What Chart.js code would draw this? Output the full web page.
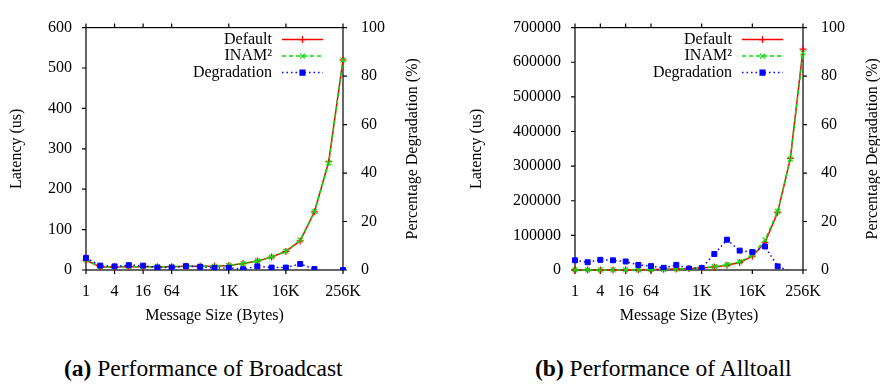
<!DOCTYPE html>
<html>
<head>
<meta charset="utf-8">
<script src="https://cdn.jsdelivr.net/npm/chart.js@4.4.1/dist/chart.umd.min.js"></script>
<style>
  body { margin: 0; background: #fff; width: 880px; height: 387px; overflow: hidden; position: relative; font-family: "Liberation Serif", serif; }
  .panel { position: absolute; top: 0; height: 330px; }
  .cap { position: absolute; top: 357px; font-size: 23.5px; line-height: 23.5px; white-space: nowrap; color: #000; font-family: "Liberation Serif", serif; }
</style>
</head>
<body>
<div class="panel" style="left:0;width:440px"><canvas id="chartBcast" width="440" height="330"></canvas></div>
<div class="panel" style="left:440px;width:460px"><canvas id="chartA2a" width="460" height="330"></canvas></div>
<div class="cap" style="left:64px"><b>(a)</b> Performance of Broadcast</div>
<div class="cap" style="left:535px"><b>(b)</b> Performance of Alltoall</div>
<script>
// message sizes in bytes (x axis, log2)
const sizes = [1, 2, 4, 8, 16, 32, 64, 128, 256, 512, 1024, 2048, 4096, 8192, 16384, 32768, 65536, 131072, 262144];
const sizeTicks = [1, 4, 16, 64, 1024, 16384, 262144];

// Broadcast latency (us) and degradation (%)
const bcastDefault = [24, 7.5, 7.5, 8, 8, 8, 8, 9, 9, 9, 11, 16, 22, 32, 46, 72, 144, 268, 520];
const bcastInam = [25, 7.6, 7.6, 8.2, 8.1, 8.1, 8.1, 9.1, 9.1, 9.1, 11.1, 16, 22.3, 32.3, 46.5, 73.8, 144.5, 265, 520];
const bcastDeg = [5.0, 1.8, 1.5, 2.0, 1.8, 1.0, 1.0, 1.6, 1.3, 0.8, 0.9, 0.3, 1.5, 1.0, 1.0, 2.5, 0.4, -1.0, 0];
const bcastLatencyTicks = [0, 100, 200, 300, 400, 500, 600];

// Alltoall latency (us) and degradation (%)
const a2aDefault = [180, 200, 240, 310, 450, 700, 1200, 2000, 2900, 4100, 5800, 9000, 13500, 21500, 40000, 79000, 167000, 322000, 638000];
const a2aInam = [187, 206, 250, 322, 466, 715, 1220, 2020, 2960, 4120, 5850, 9600, 15200, 23200, 43000, 87000, 169000, 320000, 627000];
const a2aDeg = [4.0, 3.2, 4.2, 4.0, 3.5, 2.1, 1.6, 0.9, 2.1, 0.6, 0.8, 6.6, 12.5, 8.0, 7.4, 9.7, 1.5, -0.6, -1.7];
const a2aLatencyTicks = [0, 100000, 200000, 300000, 400000, 500000, 600000, 700000];

const degTicks = [0, 20, 40, 60, 80, 100];

const FONT = '"Liberation Serif", "Times New Roman", serif';

function fmtSize(v) {
    return v >= 1024 ? (v / 1024) + 'K' : String(v);
}

function pts(values) {
    return sizes.map((s, i) => ({ x: s, y: values[i] }));
}

const framePlugin = {
    id: 'frame',
    beforeDatasetsDraw(chart) {
        const { ctx, chartArea: a, scales } = chart;
        ctx.save();
        ctx.strokeStyle = '#000';
        ctx.lineWidth = 1.2;
        ctx.strokeRect(a.left, a.top, a.right - a.left, a.bottom - a.top);
        ctx.beginPath();
        scales.x.ticks.forEach(t => {
            const px = scales.x.getPixelForValue(t.value);
            ctx.moveTo(px, a.bottom); ctx.lineTo(px, a.bottom + 4);
            ctx.moveTo(px, a.top); ctx.lineTo(px, a.top - 4);
        });
        scales.y.ticks.forEach(t => {
            const py = scales.y.getPixelForValue(t.value);
            ctx.moveTo(a.left - 4, py); ctx.lineTo(a.left, py);
        });
        scales.y2.ticks.forEach(t => {
            const py = scales.y2.getPixelForValue(t.value);
            ctx.moveTo(a.right, py); ctx.lineTo(a.right + 4, py);
        });
        ctx.stroke();
        ctx.restore();
    },
    afterDraw(chart) {
        const { ctx, chartArea: a } = chart;
        ctx.save();
        // right axis title, reads bottom to top like gnuplot
        ctx.font = '16px ' + FONT;
        ctx.fillStyle = '#000';
        ctx.textAlign = 'center';
        ctx.textBaseline = 'middle';
        ctx.translate(a.right + 70, (a.top + a.bottom) / 2);
        ctx.rotate(-Math.PI / 2);
        ctx.fillText('Percentage Degradation (%)', 0, 0);
        ctx.restore();

        // legend: text right-aligned, sample to the right
        ctx.save();
        chart.data.datasets.forEach((ds, i) => {
            const y = a.top + 12 + i * 16.5;
            ctx.font = '16px ' + FONT;
            ctx.fillStyle = '#000';
            ctx.textAlign = 'right';
            ctx.textBaseline = 'middle';
            ctx.fillText(ds.label, a.right - 71, y);
            ctx.strokeStyle = ds.borderColor;
            ctx.fillStyle = ds.backgroundColor;
            ctx.lineWidth = ds.borderWidth;
            ctx.setLineDash(ds.borderDash || []);
            ctx.beginPath();
            ctx.moveTo(a.right - 61, y);
            ctx.lineTo(a.right - 20, y);
            ctx.stroke();
            ctx.setLineDash([]);
            ctx.lineWidth = 1.2;
            Chart.helpers.drawPoint(ctx, { pointStyle: ds.pointStyle, radius: 3.5, borderWidth: 1.2, rotation: 0 }, a.right - 40.5, y);
        });
        ctx.restore();
    }
};

function makeChart(id, cfg) {
    const ctx = document.getElementById(id);
    return new Chart(ctx, {
        type: 'line',
        data: {
            datasets: [
                { label: 'Default', data: pts(cfg.def), yAxisID: 'y', order: 2, borderColor: '#ff0000', backgroundColor: '#ff0000', borderWidth: 1.5, pointStyle: 'cross', pointRadius: 3.5, pointBorderWidth: 1.2, clip: false },
                { label: 'INAM²', data: pts(cfg.inam), yAxisID: 'y', order: 1, borderColor: '#00e000', backgroundColor: '#00e000', borderWidth: 1.5, borderDash: [4, 3], pointStyle: 'crossRot', pointRadius: 3.5, pointBorderWidth: 1.2, clip: false },
                { label: 'Degradation', data: pts(cfg.deg), yAxisID: 'y2', order: 0, borderColor: '#0000ff', backgroundColor: '#0000ff', borderWidth: 1.5, borderDash: [1.5, 3], pointStyle: 'rect', pointRadius: c => (c.raw && c.raw.y < 0 ? 0 : 3.5), pointBorderWidth: 1, clip: { left: 6, right: 6, top: 6, bottom: 0 } }
            ]
        },
        options: {
            responsive: false,
            animation: false,
            layout: { padding: { top: 6, left: 0, right: 0, bottom: 0 } },
            plugins: { legend: { display: false }, tooltip: { enabled: false } },
            scales: {
                x: {
                    type: 'logarithmic', position: 'bottom', min: 1, max: 262144,
                    afterBuildTicks: s => { s.ticks = sizeTicks.map(v => ({ value: v })); },
                    afterFit: s => { s.height = 60; },
                    grid: { display: false, drawTicks: false },
                    border: { display: false },
                    ticks: { color: '#000', font: { family: FONT, size: 16 }, padding: 12, maxRotation: 0, autoSkip: false, callback: v => fmtSize(v) },
                    title: { display: true, text: 'Message Size (Bytes)', color: '#000', font: { family: FONT, size: 16 }, padding: { top: 0, bottom: 5 } }
                },
                y: {
                    position: 'left', min: 0, max: cfg.latencyTicks[cfg.latencyTicks.length - 1],
                    afterBuildTicks: s => { s.ticks = cfg.latencyTicks.map(v => ({ value: v })); },
                    afterFit: s => { s.width = cfg.leftWidth; },
                    grid: { display: false, drawTicks: false },
                    border: { display: false },
                    ticks: { color: '#000', font: { family: FONT, size: 16 }, padding: 14, callback: v => String(v) },
                    title: { display: true, text: 'Latency (us)', color: '#000', font: { family: FONT, size: 16 }, padding: { top: cfg.leftTitlePad, bottom: 0 } }
                },
                y2: {
                    position: 'right', min: 0, max: 100,
                    afterBuildTicks: s => { s.ticks = degTicks.map(v => ({ value: v })); },
                    afterFit: s => { s.width = 97; },
                    grid: { display: false, drawTicks: false },
                    border: { display: false },
                    ticks: { color: '#000', font: { family: FONT, size: 16 }, padding: 18, callback: v => String(v) }
                }
            }
        },
        plugins: [framePlugin]
    });
}

makeChart('chartBcast', { def: bcastDefault, inam: bcastInam, deg: bcastDeg, latencyTicks: bcastLatencyTicks, leftWidth: 86, leftTitlePad: 7 });
makeChart('chartA2a', { def: a2aDefault, inam: a2aInam, deg: a2aDeg, latencyTicks: a2aLatencyTicks, leftWidth: 135, leftTitlePad: 27 });
</script>
</body>
</html>
